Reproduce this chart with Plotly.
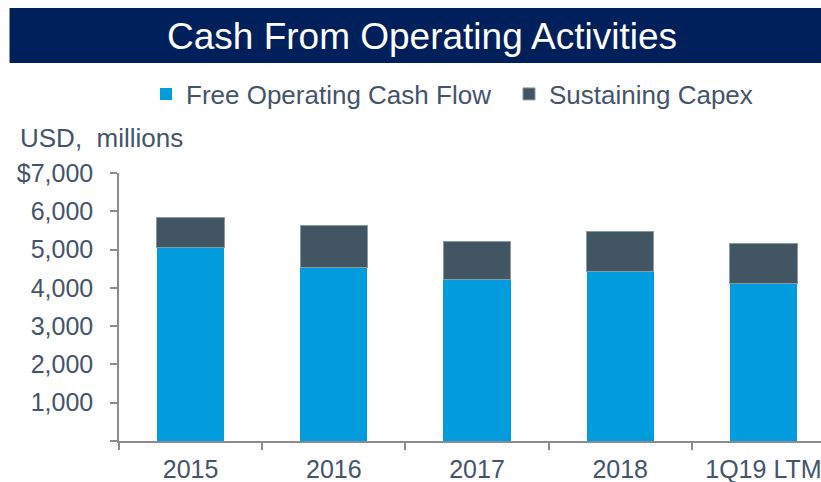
import plotly.graph_objects as go

categories = ["2015", "2016", "2017", "2018", "1Q19 LTM"]
free_operating_cash_flow = [5050, 4530, 4220, 4430, 4120]
sustaining_capex = [790, 1100, 990, 1040, 1040]
y_tick_values = [0, 1000, 2000, 3000, 4000, 5000, 6000, 7000]
y_tick_labels = ["", "1,000", "2,000", "3,000", "4,000", "5,000", "6,000", "$7,000"]

TEXT = "#44546A"
BLUE = "#009CDE"
SLATE = "#425563"
AXIS = "#8C8C8C"
FONT = "Liberation Sans, Arial, sans-serif"

W, H = 821, 482
L, R, T, B = 119, 0, 173, 41

fig = go.Figure()
fig.add_trace(go.Bar(x=categories, y=free_operating_cash_flow, name="Free Operating Cash Flow",
                     legendwidth=318,
                     marker=dict(color=BLUE, line=dict(width=0))))
fig.add_trace(go.Bar(x=categories, y=sustaining_capex, name="Sustaining Capex",
                     marker=dict(color=SLATE, line=dict(width=1, color="#8A9AA6"))))

fig.update_layout(
    width=W, height=H,
    margin=dict(l=L, r=R, t=T, b=B, pad=0, autoexpand=False),
    barmode="stack",
    bargap=0.53,
    plot_bgcolor="white",
    paper_bgcolor="white",
    font=dict(family=FONT, size=25, color=TEXT),
    showlegend=True,
    legend=dict(
        orientation="h",
        xref="container", yref="container",
        x=146 / W, xanchor="left",
        y=1 - 94 / H, yanchor="middle",
        font=dict(size=26, color=TEXT),
        bgcolor="rgba(0,0,0,0)", borderwidth=0,
        traceorder="normal",
    ),
    xaxis=dict(
        range=[-0.5, -0.5 + (W - L) / 143.2],
        showline=True, linecolor=AXIS, linewidth=1.5,
        ticks="outside", tickson="boundaries", ticklen=7, tickcolor=AXIS, tickwidth=1.5,
        showgrid=False, zeroline=False,
        tickfont=dict(size=25, color=TEXT),
        ticklabelstandoff=5,
        automargin=False,
        fixedrange=True,
    ),
    yaxis=dict(
        range=[0, 7000],
        tickvals=y_tick_values, ticktext=y_tick_labels,
        showline=True, linecolor=AXIS, linewidth=1.5,
        ticks="outside", ticklen=7, tickcolor=AXIS, tickwidth=1.5,
        showgrid=False, zeroline=False,
        tickfont=dict(size=25, color=TEXT),
        ticklabelstandoff=12,
        automargin=False,
        fixedrange=True,
    ),
)

# Title band
fig.add_shape(type="rect", xref="paper", yref="paper",
              x0=(9.5 - L) / (W - L), x1=1.02,
              y0=(H - B - 63) / (H - T - B), y1=(H - B - 8) / (H - T - B),
              fillcolor="#00205B", line=dict(width=0), layer="above")
fig.add_annotation(text="Cash From Operating Activities", xref="paper", yref="paper",
                   x=(422 - L) / (W - L), y=(H - B - 36) / (H - T - B),
                   xanchor="center", yanchor="middle", showarrow=False,
                   font=dict(size=37, color="white", family=FONT))
fig.add_annotation(text="USD,  millions", xref="paper", yref="paper",
                   x=(18 - L) / (W - L), y=(H - B - 137.5) / (H - T - B),
                   xanchor="left", yanchor="middle", showarrow=False,
                   font=dict(size=26, color=TEXT, family=FONT))

fig.write_html("out.html", config={"displayModeBar": False},
               post_script="document.body.style.margin='0';document.body.style.padding='0';")
